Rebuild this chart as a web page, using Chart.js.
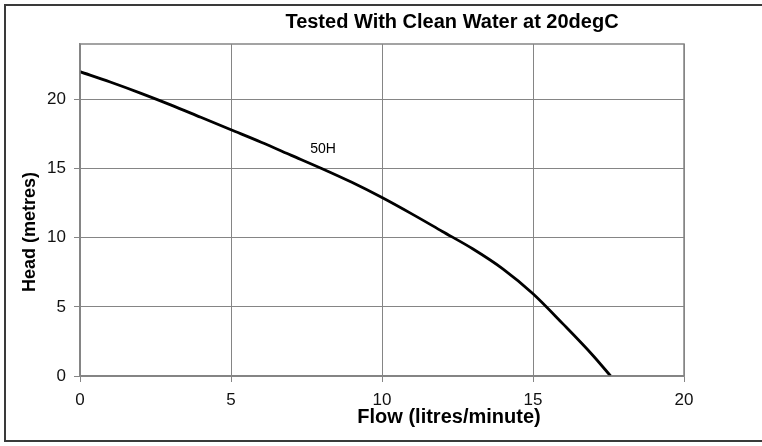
<!DOCTYPE html>
<html>
<head>
<meta charset="utf-8">
<script src="https://cdn.jsdelivr.net/npm/chart.js@4/dist/chart.umd.min.js"></script>
<style>
html,body{margin:0;padding:0;background:#fff;}
#wrap{position:relative;width:762px;height:446px;}
#frame{position:absolute;left:4px;top:4px;width:780px;height:438px;border:2px solid #3a3a3a;box-sizing:border-box;pointer-events:none;}
</style>
</head>
<body>
<div id="wrap"><canvas id="c" width="762" height="446"></canvas><div id="frame"></div></div>
<script>
const chartTitle = "Tested With Clean Water at 20degC";
const xTitle = "Flow (litres/minute)";
const yTitle = "Head (metres)";
const seriesName = "50H";
const flow = [0, 1, 2, 3, 4, 5, 6, 7, 8, 9, 10, 11, 12, 13, 14, 15, 16, 17, 17.57];
const head = [22, 21.25, 20.45, 19.6, 18.7, 17.8, 16.9, 15.95, 15.0, 14.0, 12.9, 11.7, 10.45, 9.2, 7.75, 5.95, 3.75, 1.45, 0];
const xTicks = [0, 5, 10, 15, 20];
const yTicks = [0, 5, 10, 15, 20];

const FONT = "'Liberation Sans', Arial, sans-serif";

const textPlugin = {
  id: 'texts',
  afterDraw(chart) {
    const ctx = chart.ctx, a = chart.chartArea;
    ctx.save();
    ctx.strokeStyle = '#858585';
    ctx.lineWidth = 1.5;
    ctx.strokeRect(a.left, a.top, a.right - a.left, a.bottom - a.top);
    ctx.fillStyle = '#000';
    ctx.textAlign = 'center';
    ctx.textBaseline = 'middle';
    ctx.font = "bold 20px " + FONT;
    ctx.fillText(chartTitle, 452, 22);
    ctx.font = "bold 20px " + FONT;
    ctx.fillText(xTitle, 449, 417);
    ctx.save();
    ctx.translate(30, 232);
    ctx.rotate(-Math.PI / 2);
    ctx.font = "bold 18px " + FONT;
    ctx.fillText(yTitle, 0, 0);
    ctx.restore();
    const xs = chart.scales.x, ys = chart.scales.y;
    ctx.font = "14px " + FONT;
    ctx.fillText(seriesName, xs.getPixelForValue(8.05), ys.getPixelForValue(16.4));
    ctx.restore();
  }
};

new Chart(document.getElementById('c'), {
  type: 'scatter',
  data: {
    datasets: [{
      label: seriesName,
      data: flow.map((x, i) => ({x: x, y: head[i]})),
      showLine: true,
      borderColor: '#000',
      borderWidth: 2.8,
      pointRadius: 0,
      cubicInterpolationMode: 'monotone',
      fill: false
    }]
  },
  options: {
    responsive: false,
    animation: false,
    devicePixelRatio: 1,
    layout: {padding: {left: 0, right: 78, top: 44, bottom: 0}},
    plugins: {legend: {display: false}, title: {display: false}, tooltip: {enabled: false}},
    scales: {
      x: {
        type: 'linear', min: 0, max: 20,
        afterBuildTicks(s) { s.ticks = xTicks.map(v => ({value: v})); },
        afterFit(s) { s.height = 70; },
        ticks: {color: '#111', font: {family: FONT, size: 17}, padding: 8, maxRotation: 0},
        grid: {color: '#858585', lineWidth: 1, tickLength: 6, drawTicks: true},
        border: {color: '#858585', width: 1.5}
      },
      y: {
        type: 'linear', min: 0, max: 24,
        afterBuildTicks(s) { s.ticks = yTicks.map(v => ({value: v})); },
        afterFit(s) { s.width = 80; },
        ticks: {color: '#111', font: {family: FONT, size: 17}, padding: 8},
        grid: {color: '#858585', lineWidth: 1, tickLength: 6, drawTicks: true},
        border: {color: '#858585', width: 1.5}
      }
    }
  },
  plugins: [textPlugin]
});
</script>
</body>
</html>
